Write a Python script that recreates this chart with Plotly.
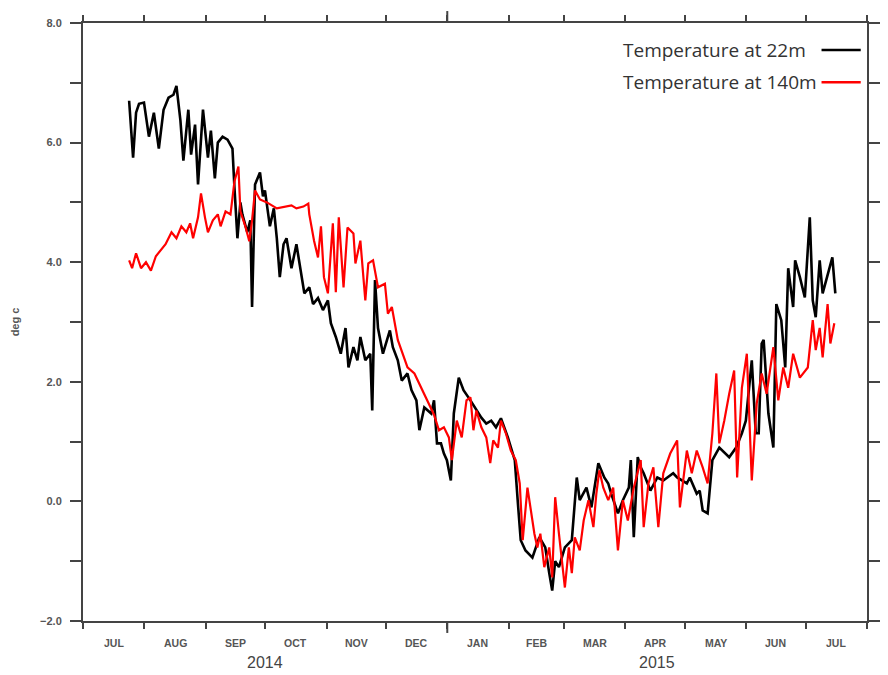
import pandas as pd
import plotly.graph_objects as go

# ---- data: days since 2014-07-01 and temperature (deg C) ----
ORIGIN = "2014-07-01"

day_22m = [23.3, 25.3, 26.8, 28.3, 30.8, 33.3, 35.8, 38.3, 40.7, 43.2, 45.7, 47.2, 49.2, 50.7,
           53.2, 54.6, 56.6, 58.1, 60.6, 63.1, 64.6, 66.6, 68.1, 70.5, 73.0, 75.5, 76.5, 78.0,
           79.5, 80.5, 83.0, 84.5, 85.4, 86.9, 89.4, 90.9, 91.9, 94.4, 96.4, 97.9, 99.4, 101.3,
           102.8, 105.3, 107.8, 110.3, 111.8, 114.3, 116.2, 118.7, 121.2, 123.7, 125.2, 127.7,
           130.2, 132.6, 134.1, 136.6, 138.6, 140.1, 142.6, 145.1, 146.1, 147.5, 149.0, 151.5,
           155.0, 156.5, 159.0, 161.0, 163.9, 165.9, 168.4, 169.9, 172.4, 175.9, 177.3, 178.8,
           180.8, 182.3, 183.8, 185.8, 187.3, 189.8, 192.2, 195.7, 198.7, 201.2, 203.7, 206.2,
           208.6, 211.1, 214.6, 218.1, 219.6, 221.1, 223.5, 227.0, 230.5, 233.5, 235.5, 237.0,
           238.5, 240.4, 243.4, 246.9, 249.4, 250.9, 254.3, 256.8, 260.3, 263.3, 265.3, 266.8,
           270.2, 272.7, 275.7, 276.7, 278.2, 280.2, 281.7, 283.2, 286.6, 290.1, 293.1, 298.1,
           300.1, 305.0, 306.5, 310.0, 311.5, 313.0, 315.5, 317.9, 321.4, 326.4, 329.9, 332.8,
           334.8, 337.8, 339.8, 341.3, 342.8, 343.8, 346.2, 348.7, 350.2, 352.7, 354.7, 356.2,
           358.7, 359.7, 362.1, 364.6, 367.1, 368.6, 370.1, 372.1, 373.6, 376.1, 378.5, 380.0]
temp_22m = [6.70, 5.75, 6.50, 6.65, 6.67, 6.10, 6.50, 5.90, 6.55, 6.75, 6.80, 6.95, 6.37, 5.70,
            6.55, 5.80, 6.30, 5.30, 6.55, 5.75, 6.20, 5.40, 6.00, 6.10, 6.05, 5.90, 5.25, 4.40,
            5.00, 4.80, 4.50, 4.70, 3.25, 5.30, 5.50, 5.10, 5.20, 4.60, 4.90, 4.40, 3.75, 4.30,
            4.40, 3.90, 4.30, 3.80, 3.48, 3.58, 3.30, 3.40, 3.20, 3.36, 2.98, 2.75,
            2.47, 2.90, 2.24, 2.58, 2.36, 2.75, 2.36, 2.47, 1.52, 3.70, 2.90, 2.47,
            2.86, 2.58, 2.36, 2.02, 2.14, 1.86, 1.69, 1.19, 1.57, 1.47, 1.69, 0.97,
            0.97, 0.80, 0.69, 0.35, 1.47, 2.07, 1.86, 1.69, 1.52, 1.40, 1.30, 1.35,
            1.24, 1.39, 1.07, 0.69, 0.00, -0.65, -0.82, -0.94, -0.60, -0.77, -1.20, -1.49,
            -1.00, -1.10, -0.77, -0.65, 0.40, 0.02, 0.23, -0.10, 0.64, 0.40, 0.30, 0.13,
            -0.20, 0.02, 0.23, 0.69, -0.60, 0.74, 0.57, 0.47, 0.18, 0.40, 0.35, 0.47,
            0.40, 0.30, 0.40, 0.13, 0.18, -0.15, -0.20, 0.69, 0.90, 0.74, 0.90, 1.14,
            1.35, 2.36, 1.14, 1.14, 2.64, 2.70, 1.47, 0.90, 3.30, 3.03, 2.24, 3.90,
            3.25, 4.03, 3.75, 3.41, 4.75, 3.36, 3.08, 4.03, 3.48, 3.81, 4.08, 3.48]

day_140m = [23.3, 24.8, 26.8, 29.3, 31.8, 34.3, 36.8, 39.2, 41.7, 44.7, 47.2, 49.7, 52.2, 54.1,
            55.6, 58.1, 59.6, 61.6, 63.1, 65.6, 68.1, 69.5, 72.0, 74.5, 76.5, 78.5, 79.5, 82.0,
            84.0, 85.4, 86.9, 89.4, 92.9, 97.9, 101.3, 105.3, 107.8, 111.3, 113.8, 114.3, 116.7,
            118.7, 120.2, 121.7, 123.7, 126.2, 127.7, 129.2, 131.6, 133.6, 136.6, 137.6, 140.1,
            142.6, 144.1, 146.5, 149.0, 152.5, 154.0, 156.0, 159.0, 161.5, 163.9, 167.4, 170.9,
            173.9, 177.3, 179.8, 182.3, 184.8, 186.3, 188.8, 191.3, 193.7, 195.7, 197.2, 198.7,
            201.2, 203.7, 205.7, 207.2, 209.6, 211.1, 213.6, 216.1, 218.6, 220.6, 222.1, 224.5,
            226.0, 228.0, 229.5, 231.0, 233.0, 235.5, 237.0, 238.5, 240.4, 241.9, 243.4, 245.4,
            246.9, 248.4, 250.9, 252.9, 255.3, 257.8, 259.3, 260.8, 262.8, 265.3, 267.8, 270.2,
            272.7, 275.2, 278.2, 281.7, 283.2, 285.6, 288.1, 290.6, 293.1, 296.6, 300.1, 301.5,
            305.0, 307.5, 310.0, 313.0, 315.5, 317.9, 319.9, 321.4, 323.9, 326.4, 328.9, 330.4,
            332.8, 335.3, 337.8, 340.3, 342.8, 345.3, 348.7, 351.2, 353.7, 356.2, 358.7, 362.1,
            366.1, 368.6, 370.1, 372.1, 373.6, 376.1, 377.5, 379.5]
temp_140m = [4.03, 3.90, 4.15, 3.90, 4.00, 3.86, 4.10, 4.20, 4.30, 4.50, 4.40, 4.60, 4.50, 4.65,
             4.40, 4.75, 5.15, 4.75, 4.50, 4.70, 4.80, 4.60, 4.85, 4.80, 5.35, 5.60, 4.85, 4.60,
             4.35, 4.70, 5.20, 5.05, 5.00, 4.90, 4.92, 4.95, 4.90, 4.93, 4.98, 4.80, 4.36,
             4.08, 4.60, 3.75, 3.48, 4.65, 3.50, 4.75, 3.58, 4.58, 4.48, 3.98, 4.36,
             3.36, 3.98, 4.03, 3.58, 3.64, 3.14, 3.25, 2.70, 2.47, 2.24, 2.14, 1.90,
             1.69, 1.45, 1.19, 1.24, 1.07, 0.69, 1.35, 1.07, 1.69, 1.74, 1.19, 1.52,
             1.24, 1.07, 0.64, 1.02, 0.90, 1.35, 1.14, 0.85, 0.69, 0.30, -0.65, 0.23,
             -0.10, -0.54, -0.77, -0.54, -1.10, -0.77, -1.27, 0.07, -0.54, -0.99, -1.44, -0.77,
             -1.20, -0.60, -0.82, -0.32, 0.02, -0.43, 0.13, 0.52, 0.23, 0.02, 0.23, -0.82,
             0.02, -0.32, 0.23, 0.69, -0.43, 0.30, 0.57, -0.43, 0.47, 0.80, 1.02, -0.10,
             0.85, 0.47, 0.85, 0.57, 0.30, 1.14, 2.14, 0.97, 1.35, 1.80, 2.19, 0.40,
             1.90, 2.47, 0.35, 1.64, 2.14, 1.80, 2.58, 1.69, 2.24, 1.90, 2.47, 2.07,
             2.24, 3.03, 2.53, 2.90, 2.41, 3.30, 2.64, 2.98]

# ---- axis labelling ----
MONTH_STARTS = ["2014-07-01", "2014-08-01", "2014-09-01", "2014-10-01", "2014-11-01",
                "2014-12-01", "2015-01-01", "2015-02-01", "2015-03-01", "2015-04-01",
                "2015-05-01", "2015-06-01", "2015-07-01", "2015-08-01"]
MONTH_LABELS = ["JUL", "AUG", "SEP", "OCT", "NOV", "DEC", "JAN", "FEB", "MAR", "APR",
                "MAY", "JUN", "JUL"]
YEAR_LABELS = ["2014", "2015"]
YEAR_BREAKS = ["2015-01-01"]
Y_TICKS = [-2, 0, 2, 4, 6, 8]

SERIES_NAMES = ["Temperature at 22m", "Temperature at 140m"]
SERIES_COLORS = ["#000000", "#ff0000"]
SERIES_WIDTHS = [2.6, 2.2]

origin = pd.Timestamp(ORIGIN)
t22 = origin + pd.to_timedelta(day_22m, unit="D")
t140 = origin + pd.to_timedelta(day_140m, unit="D")
starts = pd.to_datetime(MONTH_STARTS)
mids = [starts[i] + (starts[i + 1] - starts[i]) / 2 for i in range(len(MONTH_LABELS))]
year_break = pd.Timestamp(YEAR_BREAKS[0])
year_mids = [starts[0] + (year_break - starts[0]) / 2,
             year_break + (starts[-1] - year_break) / 2]

AXIS_COLOR = "#444444"
TICK_FONT = dict(family="Liberation Sans, Arial, sans-serif", size=10.5, color="#555555")

fig = go.Figure()
fig.add_trace(go.Scatter(x=t22, y=temp_22m, mode="lines", name=SERIES_NAMES[0],
                         line=dict(color=SERIES_COLORS[0], width=SERIES_WIDTHS[0]),
                         showlegend=False))
fig.add_trace(go.Scatter(x=t140, y=temp_140m, mode="lines", name=SERIES_NAMES[1],
                         line=dict(color=SERIES_COLORS[1], width=SERIES_WIDTHS[1]),
                         showlegend=False))

# month and year captions under the time axis
for m, lab in zip(mids, MONTH_LABELS):
    fig.add_annotation(x=m, y=0, xref="x", yref="paper", yanchor="top", yshift=-14,
                       text=f"<b>{lab}</b>", showarrow=False, font=TICK_FONT)
for m, lab in zip(year_mids, YEAR_LABELS):
    fig.add_annotation(x=m, y=0, xref="x", yref="paper", yanchor="top", yshift=-31,
                       text=lab, showarrow=False,
                       font=dict(family="Liberation Sans, Arial, sans-serif", size=16,
                                 color="#444444"))

# longer ticks marking the change of year, top and bottom
for yb in YEAR_BREAKS:
    fig.add_shape(type="line", x0=yb, x1=yb, xref="x", yref="paper", y0=0, y1=-0.02,
                  line=dict(color=AXIS_COLOR, width=2))
    fig.add_shape(type="line", x0=yb, x1=yb, xref="x", yref="paper", y0=1, y1=1.02,
                  line=dict(color=AXIS_COLOR, width=2))

# legend: text on the left, line sample on the right
for i, (name, col) in enumerate(zip(SERIES_NAMES, SERIES_COLORS)):
    yy = 0.955 - i * 0.054
    fig.add_annotation(x=0.686, y=yy, xref="paper", yref="paper", xanchor="left",
                       yanchor="middle", text=name, showarrow=False,
                       font=dict(family="Open Sans, sans-serif", size=19, color="#333333"))
    fig.add_shape(type="line", xref="paper", yref="paper", x0=0.942, x1=0.992, y0=yy, y1=yy,
                  line=dict(color=col, width=2.5))

fig.update_xaxes(range=[starts[0], starts[-1]], tickvals=starts, showticklabels=False,
                 ticks="outside", ticklen=6, tickwidth=2, tickcolor=AXIS_COLOR,
                 showline=True, linecolor=AXIS_COLOR, linewidth=2, mirror="allticks",
                 showgrid=False, zeroline=False)
fig.update_yaxes(range=[-2, 8], tickvals=Y_TICKS, tickformat=".1f",
                 tickfont=dict(family="Liberation Sans, Arial, sans-serif", size=11,
                               color="#555555", weight="bold"),
                 ticks="outside", ticklen=11, tickwidth=2, tickcolor=AXIS_COLOR,
                 ticklabelstandoff=6,
                 minor=dict(dtick=1, ticks="outside", ticklen=11, tickwidth=2,
                            tickcolor=AXIS_COLOR, showgrid=False),
                 showline=True, linecolor=AXIS_COLOR, linewidth=2, mirror="allticks",
                 showgrid=False, zeroline=False,
                 title=dict(text="<b>deg c</b>", standoff=18,
                            font=dict(family="Liberation Sans, Arial, sans-serif", size=11,
                                      color="#555555")))

fig.update_layout(width=888, height=675, margin=dict(l=83, r=8, t=23, b=54),
                  paper_bgcolor="white", plot_bgcolor="white", showlegend=False)

fig.write_html("out.html")
